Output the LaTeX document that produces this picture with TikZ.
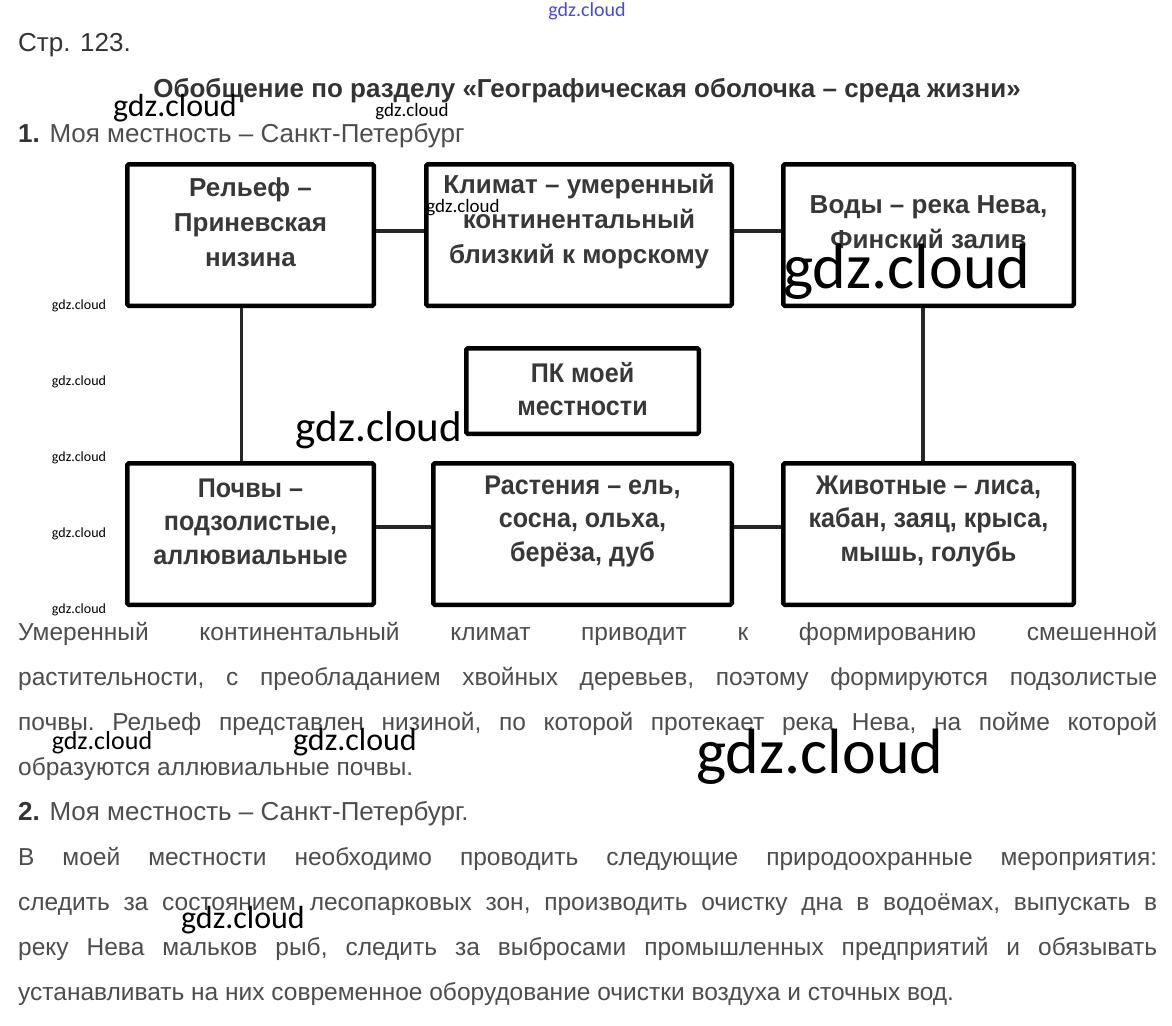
\documentclass[tikz,border=0pt]{standalone}
\usepackage{fontspec}
\setmainfont{Liberation Sans}
\newfontfamily\narrowfont[FakeStretch=0.93]{Liberation Sans}
\newfontfamily\wmfont{Carlito}
\usetikzlibrary{positioning}
\definecolor{bodygray}{HTML}{4d4d4d}
\definecolor{boxtext}{HTML}{383838}
\definecolor{titletext}{HTML}{333333}
\definecolor{wmblue}{HTML}{4a4ad8}
\newcommand\nohyph{\frenchspacing\tolerance=9999\relax\hyphenpenalty=10000\relax}

\begin{document}
\begin{tikzpicture}[
    x=1pt, y=-1pt,
    node distance=153pt and 48pt,
    every node/.style={inner sep=0pt},
    box/.style={
        draw=black,
        line width=4.5pt,
        rounded corners=1.5pt,
        minimum height=141.5pt,
        fill=white,
    },
    toptext/.style={
        align=center,
        text=boxtext,
        font=\bfseries\fontsize{26}{35}\selectfont,
    },
    bottext/.style={
        align=center,
        text=boxtext,
        font=\narrowfont\bfseries\fontsize{27}{33.5}\selectfont,
    },
    conn/.style={line width=3.5pt,color=black!85},
    heading/.style={anchor=base west,text=bodygray,font=\fontsize{26}{26}\selectfont},
    para/.style={
        anchor=base west,
        text width=1139pt,
        align=justify,
        text=bodygray,
        font=\fontsize{24.5}{45}\selectfont,
    },
    wm/.style={font=\wmfont\fontsize{#1}{#1}\selectfont,text=black},
]
\useasboundingbox[fill=white] (0,0) rectangle (1172,1025);

% Header
\node[anchor=base west,text=titletext,font=\fontsize{26}{26}\selectfont] (page) at (18,52) {Стр. 123.};
\node[anchor=base,text=titletext,font=\bfseries\fontsize{26}{26}\selectfont] (title) at (587,97)
    {Обобщение по разделу «Географическая оболочка – среда жизни»};
\node[heading] (item1) at (18,142) {\textcolor{titletext}{\textbf{1.}} Моя местность – Санкт-Петербург};

% Top row
\node[box,minimum width=246.5pt] (relief) at (250.5,235) {};
\node[box,minimum width=305.5pt,right=48pt of relief] (climate) {};
\node[box,minimum width=290.5pt,right=47pt of climate] (water) {};

% Bottom row
\node[box,minimum width=246.5pt,below=153pt of relief] (soil) {};
\node[box,minimum width=298.5pt,right=55pt of soil] (plants) {};
\node[box,minimum width=290.5pt,right=47pt of plants] (animals) {};

% Centre
\node[box,minimum width=232.5pt,minimum height=85.5pt] (pk) at (582.5,391) {};

% Links
\draw[conn] ([yshift=4pt]relief.east) -- ([yshift=4pt]climate.west);
\draw[conn] ([yshift=4pt]climate.east) -- ([yshift=4pt]water.west);
\draw[conn] ([yshift=7pt]soil.east) -- ([yshift=7pt]plants.west);
\draw[conn] ([yshift=7pt]plants.east) -- ([yshift=7pt]animals.west);
\draw[conn] ([xshift=-9pt]relief.south) -- ([xshift=-9pt]soil.north);
\draw[conn] ([xshift=-5.5pt]water.south) -- ([xshift=-5.5pt]animals.north);

% Box texts
\node[toptext] (relieftext) at ([yshift=13pt]relief.center) {Рельеф –\\Приневская\\низина};
\node[toptext] (climatetext) at ([yshift=13pt]climate.center) {Климат – умеренный\\континентальный\\близкий к морскому};
\node[toptext] (watertext) at ([yshift=13pt]water.center) {Воды – река Нева,\\Финский залив};
\node[bottext] (pktext) at ([yshift=2pt]pk.center) {ПК моей\\местности};
\node[bottext] (soiltext) at ([yshift=12.5pt]soil.center) {Почвы –\\подзолистые,\\аллювиальные};
\node[bottext] (plantstext) at ([yshift=12.5pt]plants.center) {Растения – ель,\\сосна, ольха,\\берёза, дуб};
\node[bottext] (animalstext) at ([yshift=12.5pt]animals.center) {Животные – лиса,\\кабан, заяц, крыса,\\мышь, голубь};

% Text below
\node[para] (para1) at (18,640) {\nohyph Умеренный континентальный климат приводит к формированию смешенной\linebreak
    растительности, с преобладанием хвойных деревьев, поэтому формируются подзолистые\linebreak
    почвы. Рельеф представлен низиной, по которой протекает река Нева, на пойме которой\linebreak
    образуются аллювиальные почвы.};
\node[heading] (item2) at (18,820) {\textcolor{titletext}{\textbf{2.}} Моя местность – Санкт-Петербург.};
\node[para] (para2) at (18,865) {\nohyph В моей местности необходимо проводить следующие природоохранные мероприятия:\linebreak
    следить за состоянием лесопарковых зон, производить очистку дна в водоёмах, выпускать в\linebreak
    реку Нева мальков рыб, следить за выбросами промышленных предприятий и обязывать\linebreak
    устанавливать на них современное оборудование очистки воздуха и сточных вод.};

% Watermarks
\node[wm=20,text=wmblue] (wmtop) at (587,11) {gdz.cloud};
\node[wm=32] (wma) at (175,108) {gdz.cloud};
\node[wm=19] (wmb) at (412,112) {gdz.cloud};
\node[wm=19] (wmc) at (463,208) {gdz.cloud};
\node[wm=64] (wmd) at (907,272) {gdz.cloud};
\node[wm=14] (wme) at (79,306) {gdz.cloud};
\node[wm=14] (wmf) at (79,382) {gdz.cloud};
\node[wm=14] (wmg) at (79,458) {gdz.cloud};
\node[wm=14] (wmh) at (79,534) {gdz.cloud};
\node[wm=14] (wmi) at (79,610) {gdz.cloud};
\node[wm=43] (wmj) at (379,430) {gdz.cloud};
\node[wm=26] (wmk) at (102,743) {gdz.cloud};
\node[wm=32] (wml) at (355,742) {gdz.cloud};
\node[wm=64] (wmm) at (820,757) {gdz.cloud};
\node[wm=32] (wmn) at (243,920) {gdz.cloud};

\end{tikzpicture}
\end{document}
